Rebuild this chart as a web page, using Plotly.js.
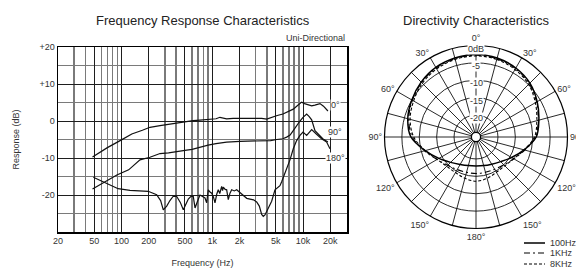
<!DOCTYPE html>
<html><head><meta charset="utf-8">
<script src="https://cdn.plot.ly/plotly-3.0.1.min.js"></script>
<style>html,body{margin:0;padding:0;background:#fff;} #chart{width:576px;height:271px;}</style>
</head><body><div id="chart"></div>
<script>
const FONT = 'Liberation Sans, Arial, Helvetica, sans-serif';

// ---------- Frequency response (Hz, dB) ----------
const freq0 = [48, 70, 100, 130, 170, 206, 266, 330, 406, 500, 614, 730, 868, 1000, 1100, 1216, 1330, 1440, 1700, 2200, 2810, 3500, 3980, 4500, 5200, 6010, 7180, 7810, 8700, 9660, 10400, 11000, 12450, 13500, 15370, 16800, 18800];
const resp0 = [-9.7, -7.2, -5.1, -3.5, -2.5, -1.7, -1.25, -0.9, -0.5, -0.2, 0.1, 0.25, 0.35, 0.4, 0.6, 1.0, 0.8, 0.6, 0.7, 0.7, 0.8, 0.7, 0.5, 1.0, 1.5, 1.9, 2.7, 3.2, 4.2, 5.1, 4.7, 4.5, 4.1, 4.3, 4.7, 4.0, 2.7];

const freq90 = [48, 70, 89, 120, 160, 206, 266, 330, 406, 500, 600, 733, 900, 1100, 1440, 2020, 2800, 3650, 4400, 5125, 6000, 6600, 7200, 7800, 8500, 9250, 10000, 10965, 11700, 12450, 13540, 14600, 16500, 18800];
const resp90 = [-18.4, -16.0, -14.6, -13.2, -10.5, -9.8, -8.8, -8.6, -8.35, -7.95, -7.65, -7.0, -6.5, -6.1, -5.7, -5.5, -5.5, -5.4, -5.3, -5.0, -4.8, -4.35, -3.8, -2.6, -1.2, 0.0, 1.0, 1.9, 1.2, 0.3, -2.6, -3.5, -4.8, -5.7];

const freq180 = [49, 69, 75, 92, 124, 160, 197, 244, 270, 289, 315, 342, 370, 405, 445, 480, 510, 545, 580, 618, 646, 674, 705, 733, 790, 832, 868, 904, 945, 986, 1030, 1072, 1120, 1165, 1210, 1270, 1300, 1323, 1390, 1442, 1502, 1568, 1637, 1750, 1858, 2000, 2197, 2400, 2604, 2850, 3085, 3300, 3503, 3650, 3808, 4100, 4513, 4909, 5571, 5817, 6603, 7180, 7807, 8500, 9254, 10000, 10965, 11700, 12452, 14000, 16000, 18200, 19800];
const resp180 = [-15.2, -16.8, -17.25, -18.3, -18.75, -18.9, -19.0, -19.9, -21.5, -24.0, -23.0, -21.5, -20.4, -20.35, -22.0, -24.0, -22.6, -21.1, -20.4, -20.35, -23.5, -22.0, -21.0, -20.0, -20.5, -20.8, -22.1, -18.6, -19.2, -19.5, -20.5, -22.1, -19.8, -18.6, -19.6, -17.7, -18.8, -17.9, -18.5, -18.6, -21.25, -19.5, -18.6, -18.9, -18.6, -19.3, -20.0, -20.9, -21.1, -21.3, -21.9, -23.0, -25.25, -25.8, -25.4, -23.8, -21.7, -18.6, -17.5, -16.4, -13.0, -10.5, -7.5, -5.3, -3.9, -3.0, -3.9, -3.0, -2.3, -3.5, -4.8, -5.7, -7.5];

const curveLabels = ['0°', '90°', '180°'];
const curveLabelFreq = [22500, 22500, 22500];
const curveLabelDb = [4.3, -2.9, -9.9];

const xTickVals = [20, 50, 100, 200, 500, 1000, 2000, 5000, 10000, 20000];
const xTickText = ['20', '50', '100', '200', '500', '1k', '2k', '5k', '10k', '20k'];
const xMinorVals = [30, 40, 60, 70, 80, 90, 300, 400, 600, 700, 800, 900, 3000, 4000, 6000, 7000, 8000, 9000];
const yTickVals = [20, 10, 0, -10, -20, -30];
const yTickText = ['+20', '+10', '0', '-10', '-20', ''];
const yMinorVals = [15, 5, -5, -15, -25];

// ---------- Directivity (degrees, dB) ----------
const theta = [0, 15, 30, 45, 60, 75, 90, 105, 120, 135, 150, 165, 180, 195, 210, 225, 240, 255, 270, 285, 300, 315, 330, 345, 360];
const dir100 = [-2.6, -2.8, -3.4, -4.4, -6.0, -7.6, -9.0, -12.0, -14.5, -16.3, -17.3, -17.8, -18.0, -17.8, -17.2, -16.0, -14.0, -11.2, -7.6, -6.0, -5.0, -4.0, -3.2, -2.8, -2.6];
const dir1k  = [-2.8, -3.0, -3.6, -4.6, -6.2, -7.8, -9.2, -11.8, -13.8, -15.0, -15.6, -15.8, -15.8, -15.8, -15.5, -14.8, -13.4, -11.0, -8.0, -6.3, -5.2, -4.2, -3.4, -3.0, -2.8];
const dir8k  = [-3.0, -3.2, -3.9, -4.9, -6.6, -8.2, -9.5, -12.0, -13.8, -14.6, -14.6, -14.0, -13.6, -14.0, -14.5, -14.4, -13.4, -11.2, -8.4, -6.7, -5.6, -4.5, -3.7, -3.2, -3.0];
const seriesNames = ['100Hz', '1KHz', '8KHz'];

const angTickVals = [0, 15, 30, 45, 60, 75, 90, 105, 120, 135, 150, 165, 180, 195, 210, 225, 240, 255, 270, 285, 300, 315, 330, 345];
const angTickText = ['0°', '', '30°', '', '60°', '', '90°', '', '120°', '', '150°', '', '180°', '', '150°', '', '120°', '', '90°', '', '60°', '', '30°', ''];
const radRange = [-25, 0];
const radTickVals = [-25, -20, -15, -10, -5, 0];
const radLabelVals = [0, -5, -10, -15, -20];
const radLabelText = ['0dB', '-5', '-10', '-15', '-20'];

// ---------- layout geometry ----------
const W = 576, H = 271;
const plotL = 58, plotR = 347, plotT = 47, plotB = 232;
const cx = 476, cy = 137, R = 91.5, HOLE = 0.05;

const lineStyle = {color: '#111', width: 1.2};
const traces = [
  {x: freq0, y: resp0, type: 'scatter', mode: 'lines', line: lineStyle, xaxis: 'x', yaxis: 'y', hoverinfo: 'skip'},
  {x: freq90, y: resp90, type: 'scatter', mode: 'lines', line: lineStyle, xaxis: 'x', yaxis: 'y', hoverinfo: 'skip'},
  {x: freq180, y: resp180, type: 'scatter', mode: 'lines', line: lineStyle, xaxis: 'x', yaxis: 'y', hoverinfo: 'skip'}
];
const dirSeries = [dir100, dir1k, dir8k];
const dashes = ['solid', '6px,3px,2px,3px', '3px,2px'];
const widths = [1.5, 1.1, 1.1];
dirSeries.forEach((d, i) => {
  traces.push({type: 'scatterpolar', r: d, theta: theta, mode: 'lines', name: seriesNames[i],
    line: {color: '#000', width: widths[i], dash: dashes[i], shape: 'spline'}, subplot: 'polar', hoverinfo: 'skip'});
});

const annotations = [
  {text: 'Frequency Response Characteristics', x: (plotL + plotR) / 2 / W, y: 1 - 20 / H, xref: 'paper', yref: 'paper', showarrow: false, xanchor: 'center', yanchor: 'middle', font: {size: 13, color: '#222'}},
  {text: 'Directivity Characteristics', x: cx / W, y: 1 - 20 / H, xref: 'paper', yref: 'paper', showarrow: false, xanchor: 'center', yanchor: 'middle', font: {size: 13, color: '#222'}},
  {text: 'Uni-Directional', x: plotR / W, y: 1 - 38 / H, xref: 'paper', yref: 'paper', showarrow: false, xanchor: 'right', yanchor: 'middle', font: {size: 9, color: '#333'}}
];
curveLabels.forEach((t, i) => {
  annotations.push({text: t, x: Math.log10(curveLabelFreq[i]), y: curveLabelDb[i], xref: 'x', yref: 'y', showarrow: false,
    xanchor: 'center', yanchor: 'middle', bgcolor: '#fff', borderpad: 0, font: {size: 9, color: '#333'}});
});
radLabelVals.forEach((v, i) => {
  const rpx = R * (HOLE + (1 - HOLE) * (v - radRange[0]) / (radRange[1] - radRange[0]));
  annotations.push({text: radLabelText[i], x: cx / W, y: 1 - (cy - rpx) / H, xref: 'paper', yref: 'paper', showarrow: false,
    xanchor: 'center', yanchor: 'middle', yshift: -3, bgcolor: '#fff', borderpad: 0, font: {size: 9, color: '#333'}});
});
// legend (manual, compact)
const legY = [243, 253, 264];
const shapes = [];
seriesNames.forEach((n, i) => {
  shapes.push({type: 'line', xref: 'paper', yref: 'paper', x0: 524 / W, x1: 545 / W, y0: 1 - legY[i] / H, y1: 1 - legY[i] / H,
    line: {color: '#000', width: widths[i], dash: dashes[i]}});
  annotations.push({text: n, x: 548 / W, y: 1 - legY[i] / H, xref: 'paper', yref: 'paper', showarrow: false,
    xanchor: 'left', yanchor: 'middle', font: {size: 9, color: '#333'}});
});

const layout = {
  width: W, height: H, margin: {l: 0, r: 0, t: 0, b: 0},
  paper_bgcolor: '#fff', plot_bgcolor: '#fff', showlegend: false,
  font: {family: FONT, size: 9, color: '#333'},
  xaxis: {type: 'log', domain: [plotL / W, plotR / W], range: [Math.log10(20), Math.log10(30500)],
    tickmode: 'array', tickvals: xTickVals, ticktext: xTickText, showgrid: true, gridcolor: '#1e1e1e', gridwidth: 1,
    minor: {tickmode: 'array', tickvals: xMinorVals, showgrid: true, gridcolor: '#7a7a7a', gridwidth: 1.6, ticks: ''},
    showline: true, mirror: true, linecolor: '#000', linewidth: 1.5, ticks: '', zeroline: false,
    tickfont: {size: 9, color: '#333'},
    title: {text: 'Frequency (Hz)', standoff: 14, font: {size: 9, color: '#333'}}, anchor: 'y', fixedrange: true},
  yaxis: {domain: [1 - plotB / H, 1 - plotT / H], range: [-30, 20],
    tickmode: 'array', tickvals: yTickVals, ticktext: yTickText, showgrid: true, gridcolor: '#1e1e1e', gridwidth: 1,
    minor: {tickmode: 'array', tickvals: yMinorVals, showgrid: true, gridcolor: '#7a7a7a', gridwidth: 1.8, ticks: ''},
    showline: true, mirror: true, linecolor: '#000', linewidth: 1.5, ticks: '', zeroline: false,
    tickfont: {size: 9, color: '#333'},
    title: {text: 'Response (dB)', standoff: 18, font: {size: 9, color: '#333'}}, anchor: 'x', fixedrange: true},
  polar: {
    domain: {x: [(cx - R) / W, (cx + R) / W], y: [1 - (cy + R) / H, 1 - (cy - R) / H]},
    hole: HOLE, bgcolor: 'rgba(0,0,0,0)',
    angularaxis: {rotation: 90, direction: 'clockwise', tickmode: 'array', tickvals: angTickVals, ticktext: angTickText,
      showgrid: true, gridcolor: '#111', gridwidth: 0.9, showline: true, linecolor: '#000', linewidth: 1.2, ticks: '',
      tickfont: {size: 9, color: '#333'}},
    radialaxis: {range: radRange, tickmode: 'array', tickvals: radTickVals, showticklabels: false, ticks: '',
      showline: false, gridcolor: '#111', gridwidth: 0.9}
  },
  annotations: annotations, shapes: shapes
};

Plotly.newPlot('chart', traces, layout, {staticPlot: true, displayModeBar: false});
</script></body></html>
